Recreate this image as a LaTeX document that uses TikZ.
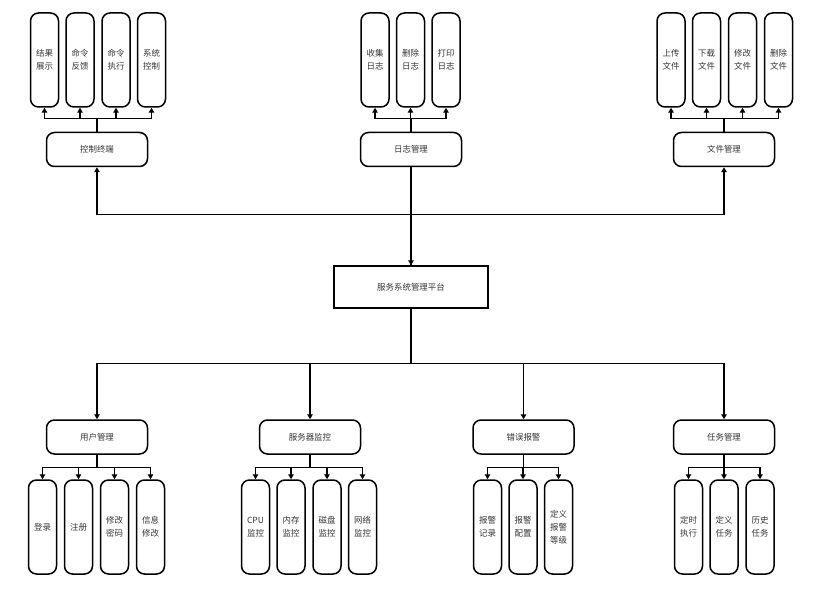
\documentclass[tikz,border=0pt]{standalone}
\usepackage{fontspec}
\setmainfont{Noto Sans CJK SC}
\usetikzlibrary{arrows.meta}
\definecolor{txt}{HTML}{333333}
\tikzset{
  tallbox/.style={draw, line width=1.5bp, rounded corners=8bp, minimum width=28bp, minimum height=94bp, inner sep=0pt, align=center, font=\fontsize{8.5}{13}\selectfont, text=txt},
  midbox/.style={draw, line width=1.5bp, rounded corners=8bp, minimum width=101bp, minimum height=34bp, inner sep=0pt, align=center, font=\fontsize{8.5}{13}\selectfont, text=txt},
  mainbox/.style={draw, line width=1.5bp, minimum width=154bp, minimum height=42bp, inner sep=0pt, align=center, font=\fontsize{8.5}{13}\selectfont, text=txt},
  arr/.style={line width=1.3bp, -{Triangle[length=5bp,width=5.5bp]}},
}
\begin{document}
\begin{tikzpicture}[x=1bp,y=-1bp]
\useasboundingbox (0,0) rectangle (824,594);
% main
\node[mainbox] (main) at (411,287) {服务系统管理平台};
% top parents
\node[midbox] (ctl) at (97,149.5) {控制终端};
\node[midbox] (log) at (411,149.5) {日志管理};
\node[midbox] (file) at (724,149.5) {文件管理};
% top children
\node[tallbox] (c1) at (44.5,60) {结果\\展示};
\node[tallbox] (c2) at (80,60) {命令\\反馈};
\node[tallbox] (c3) at (116,60) {命令\\执行};
\node[tallbox] (c4) at (151.5,60) {系统\\控制};
\node[tallbox] (l1) at (375,60) {收集\\日志};
\node[tallbox] (l2) at (410.5,60) {删除\\日志};
\node[tallbox] (l3) at (446,60) {打印\\日志};
\node[tallbox] (f1) at (671,60) {上传\\文件};
\node[tallbox] (f2) at (706.5,60) {下载\\文件};
\node[tallbox] (f3) at (742.5,60) {修改\\文件};
\node[tallbox] (f4) at (778.5,60) {删除\\文件};
% bottom parents
\node[midbox] (um) at (97,437) {用户管理};
\node[midbox] (sm) at (310,437) {服务器监控};
\node[midbox] (em) at (523.5,437) {错误报警};
\node[midbox] (tm) at (724,437) {任务管理};
% bottom children
\node[tallbox] (u1) at (42.5,527) {登录};
\node[tallbox] (u2) at (78.5,527) {注册};
\node[tallbox] (u3) at (114.5,527) {修改\\密码};
\node[tallbox] (u4) at (150.5,527) {信息\\修改};
\node[tallbox] (s1) at (255.5,527) {CPU\\监控};
\node[tallbox] (s2) at (291,527) {内存\\监控};
\node[tallbox] (s3) at (327,527) {磁盘\\监控};
\node[tallbox] (s4) at (362.5,527) {网络\\监控};
\node[tallbox] (e1) at (487.5,527) {报警\\记录};
\node[tallbox] (e2) at (523,527) {报警\\配置};
\node[tallbox] (e3) at (558.5,527) {定义\\报警\\等级};
\node[tallbox] (t1) at (688.5,527) {定时\\执行};
\node[tallbox] (t2) at (724,527) {定义\\任务};
\node[tallbox] (t3) at (760,527) {历史\\任务};
% top connections
\draw[arr] (main.north) -- ++(0,-51) -| (ctl.south);
\draw[arr] (main.north) -- ++(0,-51) -| (file.south);
\draw[arr] (log.south) -- (main.north);
\foreach \c in {c1,c2,c3,c4} \draw[arr] (ctl.north) -- ++(0,-13) -| (\c.south);
\foreach \c in {l1,l2,l3} \draw[arr] (log.north) -- ++(0,-13) -| (\c.south);
\foreach \c in {f1,f2,f3,f4} \draw[arr] (file.north) -- ++(0,-13) -| (\c.south);
% bottom connections
\foreach \p in {um,sm,em,tm} \draw[arr] (main.south) -- ++(0,55) -| (\p.north);
\foreach \c in {u1,u2,u3,u4} \draw[arr] (um.south) -- ++(0,13) -| (\c.north);
\foreach \c in {s1,s2,s3,s4} \draw[arr] (sm.south) -- ++(0,13) -| (\c.north);
\foreach \c in {e1,e2,e3} \draw[arr] (em.south) -- ++(0,13) -| (\c.north);
\foreach \c in {t1,t2,t3} \draw[arr] (tm.south) -- ++(0,13) -| (\c.north);
\end{tikzpicture}
\end{document}
